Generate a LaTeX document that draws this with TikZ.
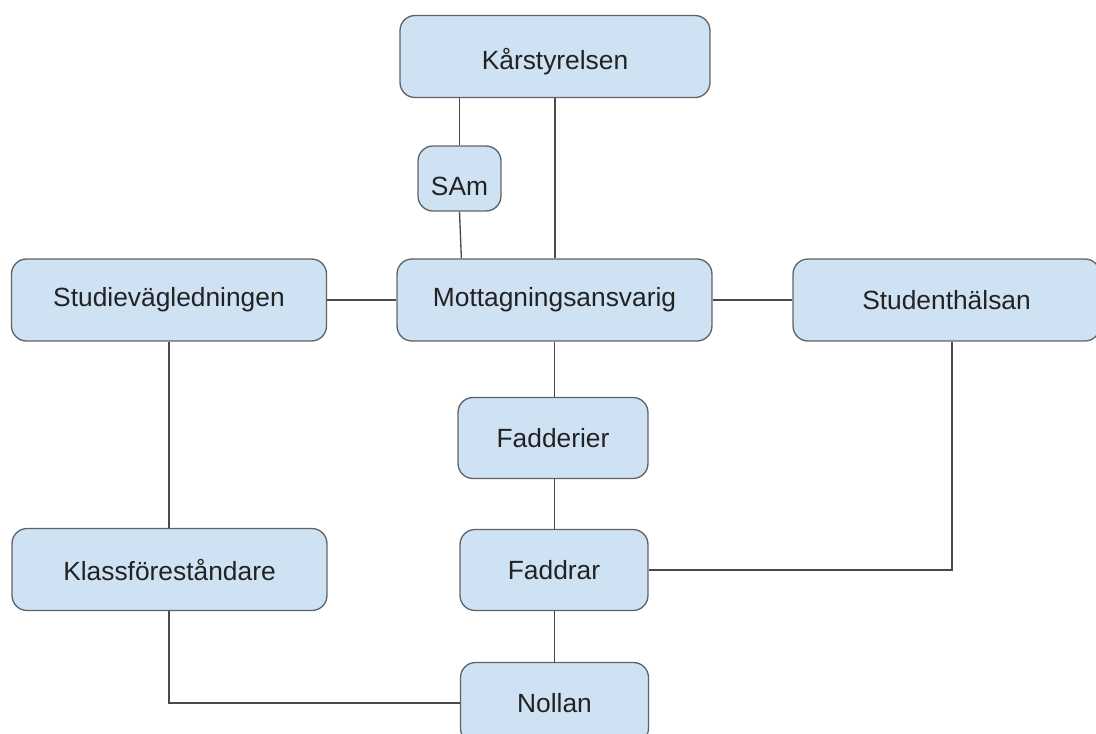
\documentclass[tikz,border=0pt]{standalone}
\usepackage{fontspec}
\setmainfont{Liberation Sans}
\usetikzlibrary{positioning}
\definecolor{boxfill}{HTML}{CFE2F3}
\definecolor{boxline}{HTML}{5F6368}
\definecolor{linkline}{HTML}{4A4A4A}
\definecolor{labeltext}{HTML}{222222}

\begin{document}
\begin{tikzpicture}[x = 0.02cm, y = -0.02cm]
	\tikzstyle{unitStyle}=[shape = rectangle, rounded corners = 0.3cm, draw = boxline, fill = boxfill, line width = 0.75pt, inner sep = 0pt, text = labeltext, font = \fontsize{15}{18}\selectfont]
	\tikzstyle{wideStyle}=[unitStyle, minimum width = 6.3cm, minimum height = 1.64cm]
	\tikzstyle{narrowStyle}=[unitStyle, minimum width = 3.76cm, minimum height = 1.62cm]
	\tikzstyle{linkStyle}=[draw = linkline, line width = 0.75pt]
	\clip (0, 0) rectangle (1096, 734);
	\node[wideStyle, minimum width = 6.2cm, text height = 0.63cm] (kar) at (555, 56.5) {Kårstyrelsen};
	\node[unitStyle, minimum width = 1.66cm, minimum height = 1.3cm, text height = 0.7cm] (sam) at (459.5, 178.5) {SAm};
	\node[wideStyle] (studie) at (169, 300) {Studievägledningen};
	\node[wideStyle] (mott) at (554.5, 300) {Mottagningsansvarig};
	\node[wideStyle, minimum width = 6.14cm] (halsan) at (946.5, 300) {Studenthälsan};
	\node[narrowStyle, minimum width = 3.8cm] (fadderier) at (553, 438) {Fadderier};
	\node[narrowStyle] (faddrar) at (554, 570) {Faddrar};
	\node[wideStyle] (klass) at (169.5, 569.5) {Klassföreståndare};
	\node[narrowStyle] (nollan) at (554.5, 703) {Nollan};
	\path[linkStyle] (sam.north) -- (sam.north |- kar.south);
	\path[linkStyle] (sam.south) -- ([xshift = 1.3cm]mott.north west);
	\path[linkStyle] (kar.south) -- (kar.south |- mott.north);
	\path[linkStyle] (studie.east) -- (mott.west);
	\path[linkStyle] (mott.east) -- (halsan.west);
	\path[linkStyle] (mott.south) -- (mott.south |- fadderier.north);
	\path[linkStyle] (mott.south |- fadderier.south) -- (mott.south |- faddrar.north);
	\path[linkStyle] (studie.south) -- (studie.south |- klass.north);
	\path[linkStyle] ([xshift = 0.11cm]halsan.south) |- (faddrar.east);
	\path[linkStyle] (mott.south |- faddrar.south) -- (mott.south |- nollan.north);
	\path[linkStyle] (studie.south |- klass.south) |- (nollan.west);
\end{tikzpicture}
\end{document}
